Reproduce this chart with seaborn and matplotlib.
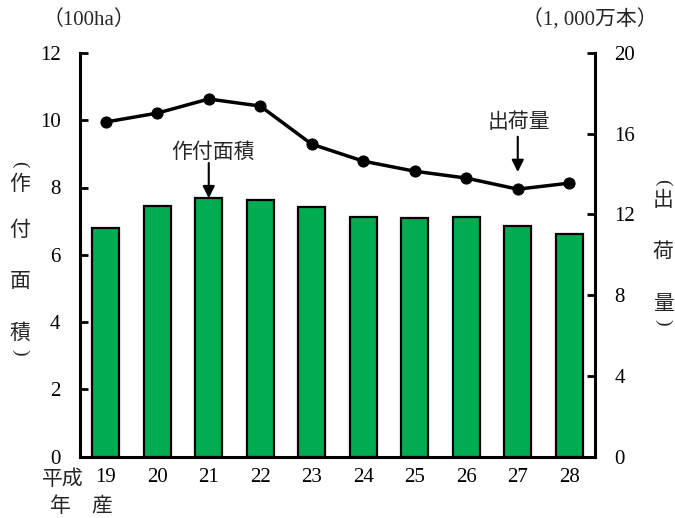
import numpy as np
import pandas as pd
import matplotlib
matplotlib.use("Agg")
import matplotlib.pyplot as plt
import seaborn as sns

# 平成19〜28年産 作付面積 (100ha) と 出荷量 (1,000万本)
years = ["19", "20", "21", "22", "23", "24", "25", "26", "27", "28"]
area = [6.80, 7.44, 7.68, 7.62, 7.41, 7.11, 7.08, 7.13, 6.85, 6.61]
shipments = [16.58, 17.02, 17.72, 17.37, 15.48, 14.64, 14.14, 13.80, 13.25, 13.55]
left_ticks = [0, 2, 4, 6, 8, 10, 12]
right_ticks = [0, 4, 8, 12, 16, 20]

sns.set_theme(style="white")
FONT = ["Liberation Serif", "Noto Sans CJK JP", "DejaVu Sans"]
CJK = ["Noto Sans CJK JP"]
plt.rcParams["font.family"] = FONT
plt.rcParams["axes.unicode_minus"] = False

df = pd.DataFrame({"year": years, "area": area, "shipments": shipments})

fig = plt.figure(figsize=(6.75, 5.18), dpi=100)
ax = fig.add_axes([80 / 675, 1 - 456.5 / 518, (595 - 80) / 675, (456.5 - 53) / 518])

sns.barplot(data=df, x="year", y="area", order=years, color="#00AC50",
            saturation=1, width=0.52, edgecolor="black", linewidth=1.6, ax=ax)
ax.set_xlim(-0.5, len(years) - 0.5)
ax.set_ylim(0, 12)
ax.set_yticks(left_ticks)
ax.set_yticklabels([str(t) for t in left_ticks])
ax.set_xlabel("")
ax.set_ylabel("")

ax2 = ax.twinx()
sns.lineplot(x=np.arange(len(years)), y=shipments, color="black", linewidth=2.5,
             marker="o", markersize=8, markeredgecolor="black", ax=ax2)
ax2.set_ylim(0, 20)
ax2.set_yticks(right_ticks)
ax2.set_yticklabels([str(t) for t in right_ticks])
ax2.set_xlim(-0.5, len(years) - 0.5)

for a in (ax, ax2):
    a.spines["top"].set_visible(False)
    for side in ("left", "right", "bottom"):
        a.spines[side].set_color("black")
        a.spines[side].set_linewidth(2.2)
ax.spines["right"].set_visible(False)
ax2.spines["left"].set_visible(False)
ax2.spines["bottom"].set_visible(False)

ax.tick_params(axis="y", direction="in", length=6, width=2, labelsize=15, pad=14,
               left=True, colors="black")
ax.tick_params(axis="x", length=0, labelsize=15, pad=8, colors="black")
ax2.tick_params(axis="y", direction="in", length=6, width=2, labelsize=15, pad=14,
                right=True, colors="black")

# 系列名の注記
arrow = dict(arrowstyle="-|>", color="black", lw=1.5, mutation_scale=18,
             shrinkA=0, shrinkB=0)
ax.text(2.08, 9.06, "作付面積", ha="center", va="center", fontsize=15, family=CJK)
ax.annotate("", xy=(2, area[2]), xytext=(2, 8.73), arrowprops=arrow)
ax2.text(8.02, 16.58, "出荷量", ha="center", va="center", fontsize=15, family=CJK)
ax2.annotate("", xy=(8.0, shipments[8] + 0.85), xytext=(8.0, 15.85), arrowprops=arrow)

# 単位
fig.text(89 / 675, 1 - 20 / 518, "（100ha）", ha="center", va="center", fontsize=15)
fig.text(590 / 675, 1 - 20 / 518, "（1, 000万本）", ha="center", va="center", fontsize=15)

# 縦書きの軸タイトル
def vertical_title(x, ys, chars, y_open, y_close):
    for y, c in zip(ys, chars):
        fig.text(x / 675, 1 - y / 518, c, ha="center", va="center", fontsize=15,
                 family=CJK)
    fig.text(x / 675, 1 - y_open / 518, "(", ha="center", va="center", fontsize=14,
             rotation=-90, family=["Liberation Serif"])
    fig.text(x / 675, 1 - y_close / 518, ")", ha="center", va="center", fontsize=14,
             rotation=-90, family=["Liberation Serif"])

vertical_title(20, [184, 230, 281, 333], "作付面積", 164, 352)
vertical_title(663, [200, 252, 304], "出荷量", 182, 322)

# 年産の表記
fig.text(63 / 675, 1 - 479 / 518, "平成", ha="center", va="center", fontsize=15,
         family=CJK)
fig.text(60 / 675, 1 - 506 / 518, "年", ha="center", va="center", fontsize=15,
         family=CJK)
fig.text(102 / 675, 1 - 506 / 518, "産", ha="center", va="center", fontsize=15,
         family=CJK)

fig.savefig("out.png", dpi=100, facecolor="white")
